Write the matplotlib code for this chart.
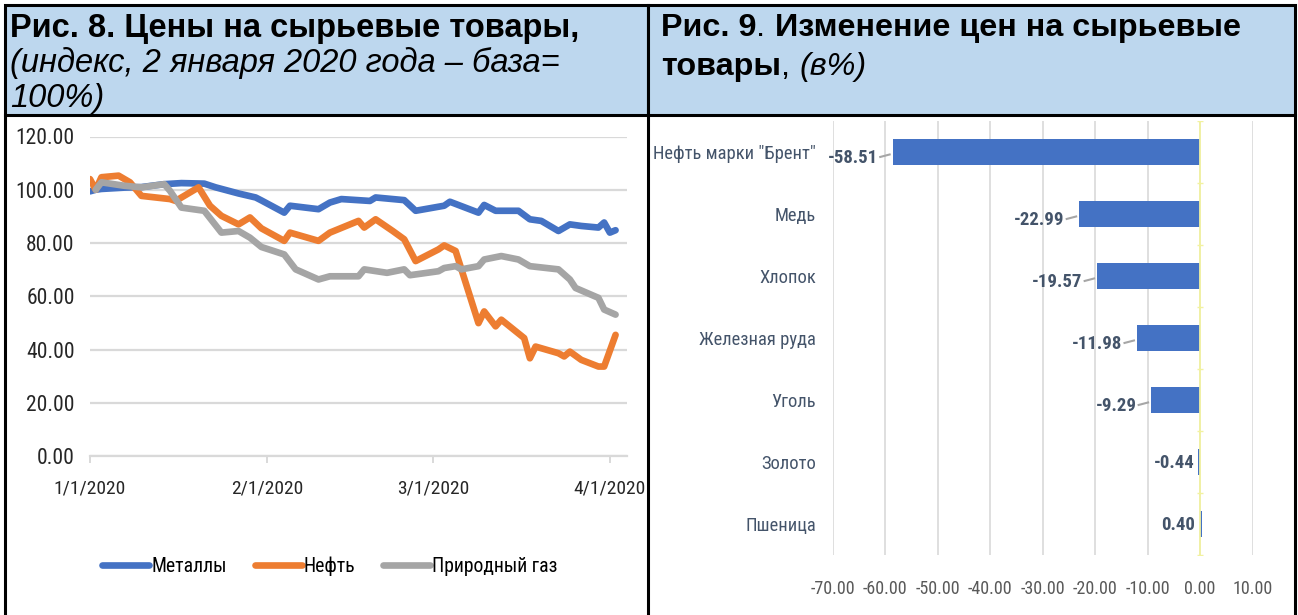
import numpy as np
import pandas as pd
import matplotlib
matplotlib.use("Agg")
from matplotlib import pyplot as plt
from matplotlib import font_manager as fm
from matplotlib.patches import Rectangle
from matplotlib.ticker import FuncFormatter
import matplotlib.dates as mdates

# ---- data: left chart (index, 2 Jan 2020 = 100) ----
metals_dates = ["2020-01-01", "2020-01-02", "2020-01-03", "2020-01-07", "2020-01-10", "2020-01-14",
                "2020-01-17", "2020-01-21", "2020-01-23", "2020-01-27", "2020-01-30", "2020-01-31",
                "2020-02-04", "2020-02-05", "2020-02-10", "2020-02-12", "2020-02-14", "2020-02-19",
                "2020-02-20", "2020-02-25", "2020-02-27", "2020-03-03", "2020-03-04", "2020-03-09",
                "2020-03-10", "2020-03-12", "2020-03-16", "2020-03-18", "2020-03-20", "2020-03-23",
                "2020-03-25", "2020-03-27", "2020-03-30", "2020-03-31", "2020-04-01", "2020-04-02"]
metals = [99.4, 100.0, 100.3, 100.8, 101.0, 102.1,
          102.5, 102.3, 100.9, 98.6, 97.1, 96.0,
          91.4, 94.0, 92.7, 95.2, 96.5, 95.8,
          97.1, 96.1, 92.1, 94.0, 95.5, 91.4,
          94.3, 92.1, 92.1, 88.9, 88.3, 84.5,
          87.0, 86.4, 85.8, 87.7, 83.9, 84.8]

oil_dates = ["2020-01-01", "2020-01-02", "2020-01-03", "2020-01-06", "2020-01-08", "2020-01-10",
             "2020-01-15", "2020-01-16", "2020-01-20", "2020-01-22", "2020-01-24", "2020-01-27",
             "2020-01-29", "2020-01-31", "2020-02-04", "2020-02-05", "2020-02-10", "2020-02-12",
             "2020-02-17", "2020-02-18", "2020-02-20", "2020-02-23", "2020-02-25", "2020-02-27",
             "2020-03-02", "2020-03-03", "2020-03-05", "2020-03-09", "2020-03-10", "2020-03-12",
             "2020-03-13", "2020-03-17", "2020-03-18", "2020-03-19", "2020-03-23", "2020-03-24",
             "2020-03-25", "2020-03-27", "2020-03-30", "2020-03-31", "2020-04-02"]
oil = [104.0, 100.0, 104.7, 105.3, 102.8, 97.7,
       96.5, 95.8, 100.9, 94.0, 90.2, 87.0,
       89.6, 85.5, 80.8, 83.9, 80.8, 83.9,
       88.3, 85.8, 88.9, 84.5, 81.4, 73.2,
       77.6, 79.1, 77.0, 49.9, 54.3, 48.7,
       51.2, 44.3, 36.7, 41.1, 38.6, 37.4,
       39.2, 36.1, 33.6, 33.6, 45.5]

gas_dates = ["2020-01-02", "2020-01-03", "2020-01-07", "2020-01-10", "2020-01-14", "2020-01-15",
             "2020-01-17", "2020-01-21", "2020-01-24", "2020-01-27", "2020-01-29", "2020-01-31",
             "2020-02-04", "2020-02-06", "2020-02-10", "2020-02-12", "2020-02-17", "2020-02-18",
             "2020-02-22", "2020-02-25", "2020-02-26", "2020-03-02", "2020-03-03", "2020-03-05",
             "2020-03-06", "2020-03-09", "2020-03-10", "2020-03-13", "2020-03-16", "2020-03-18",
             "2020-03-23", "2020-03-25", "2020-03-26", "2020-03-30", "2020-03-31", "2020-04-02"]
gas = [100.0, 102.8, 101.5, 100.9, 102.1, 99.6,
       93.3, 92.1, 83.9, 84.5, 82.0, 78.5,
       75.7, 70.1, 66.3, 67.5, 67.5, 70.1,
       68.8, 70.1, 67.9, 69.4, 70.6, 71.3,
       70.1, 71.3, 73.8, 75.1, 73.8, 71.3,
       70.1, 66.3, 63.1, 59.4, 55.0, 53.1]

series_names = ["Металлы", "Нефть", "Природный газ"]
series_colors = ["#4472C4", "#ED7D31", "#A5A5A5"]

# ---- data: right chart (change, %) ----
commodities = ['Нефть марки "Брент"', "Медь", "Хлопок", "Железная руда", "Уголь", "Золото", "Пшеница"]
changes = [-58.51, -22.99, -19.57, -11.98, -9.29, -0.44, 0.40]

# ---- fonts: prefer a narrow face for the chart text, like Arial Narrow ----
ARIAL = "Liberation Sans"


def find_narrow(bold):
    keys = ["liberation sans narrow", "liberationsansnarrow", "roboto condensed", "robotocondensed",
            "dejavu sans condensed", "dejavusanscondensed", "opensans_condensed", "open sans condensed",
            "narrow", "condensed"]
    fonts = [f for f in fm.fontManager.ttflist if f.style == "normal"]
    for k in keys:
        for f in fonts:
            tag = (f.name + " " + f.fname).lower().replace("-", "")
            is_bold = f.weight in ("bold", 700, "heavy", 800)
            if k in tag and is_bold == bold and "italic" not in f.fname.lower():
                return fm.FontProperties(fname=f.fname)
    return None


NAR = find_narrow(False)
NARB = find_narrow(True)
HAVE_NARROW = NAR is not None
if NAR is None:
    NAR = fm.FontProperties(family=ARIAL)
if NARB is None:
    NARB = fm.FontProperties(family=ARIAL, weight="bold")
K = 1.0 if HAVE_NARROW else 0.84


def fp(base, size):
    p = base.copy()
    p.set_size(size * K)
    return p


W, H = 1298, 615
fig = plt.figure(figsize=(W / 100, H / 100), dpi=100)
fig.patch.set_facecolor("white")


def fx(px):
    return px / W


def fy(py):
    return 1 - py / H


# ---- header boxes and frame ----
HEAD = "#BDD7EE"
fig.patches.append(Rectangle((fx(5), fy(115)), fx(643), 110 / H, transform=fig.transFigure,
                             facecolor=HEAD, edgecolor="black", linewidth=2.2, zorder=0))
fig.patches.append(Rectangle((fx(648), fy(115)), fx(647), 110 / H, transform=fig.transFigure,
                             facecolor=HEAD, edgecolor="black", linewidth=2.2, zorder=0))
for xp in (5, 648, 1295):
    fig.add_artist(plt.Line2D([fx(xp), fx(xp)], [fy(115), 0], transform=fig.transFigure,
                              color="black", linewidth=2.2))

renderer = fig.canvas.get_renderer()


def runs(x_px, y_px, parts, size=23.5):
    x = fx(x_px)
    for text, weight, style in parts:
        t = fig.text(x, fy(y_px), text, fontsize=size, fontweight=weight, fontstyle=style,
                     family=[ARIAL, "DejaVu Sans"], va="center", ha="left", color="black")
        bb = t.get_window_extent(renderer)
        x += bb.width / W


runs(10, 28, [("Рис. 8. Цены на сырьевые товары,", "bold", "normal")])
runs(10, 63, [("(индекс, 2 января 2020 года – база=", "normal", "italic")])
runs(10, 98, [("100%)", "normal", "italic")])
runs(661, 28, [("Рис. 9", "bold", "normal"), (". ", "normal", "normal"),
               ("Изменение цен на сырьевые", "bold", "normal")], size=23.3)
runs(661, 67, [("товары", "bold", "normal"), (", ", "normal", "normal"),
               ("(в%)", "normal", "italic")], size=23.3)

# ---- left chart: lines ----
ax1 = fig.add_axes([fx(90), fy(456), fx(537), (456 - 136.5) / H])
line_data = [(metals_dates, metals), (oil_dates, oil), (gas_dates, gas)]
handles = []
for (dts, vals), name, col in zip(line_data, series_names, series_colors):
    h, = ax1.plot(pd.to_datetime(dts), vals, color=col, linewidth=4.8, label=name,
                  solid_joinstyle="round", solid_capstyle="round")
    handles.append(h)

ax1.set_ylim(0, 120)
ax1.set_yticks(np.arange(0, 121, 20))
ax1.yaxis.set_major_formatter(FuncFormatter(lambda v, p: f"{v:.2f}"))
ax1.set_xlim(pd.Timestamp("2020-01-01"), pd.Timestamp("2020-04-04"))
ax1.set_xticks(pd.to_datetime(["2020-01-01", "2020-02-01", "2020-03-01", "2020-04-01"]))
ax1.xaxis.set_major_formatter(FuncFormatter(
    lambda v, p: f"{mdates.num2date(v).month}/{mdates.num2date(v).day}/{mdates.num2date(v).year}"))
ax1.grid(axis="y", color="#D9D9D9", linewidth=1.6)
ax1.set_axisbelow(True)
for s in ("top", "right", "left"):
    ax1.spines[s].set_visible(False)
ax1.spines["bottom"].set_color("#D9D9D9")
ax1.spines["bottom"].set_linewidth(1.6)
ax1.tick_params(axis="y", length=0, pad=11, labelcolor="#262626")
ax1.tick_params(axis="x", length=5, width=1.4, color="#D9D9D9", pad=12, labelcolor="#262626")
for lab in ax1.get_yticklabels():
    lab.set_fontproperties(fp(NAR, 15.5))
for lab in ax1.get_xticklabels():
    lab.set_fontproperties(fp(NAR, 14))

fig.legend(handles=handles, loc="center", bbox_to_anchor=(fx(330), fy(566)), ncol=3,
           frameon=False, prop=fp(NAR, 14.2), handlelength=2.4, handletextpad=0.1,
           columnspacing=1.4)

# ---- right chart: bars ----
ax2 = fig.add_axes([fx(832.5), fy(555), fx(420), (555 - 121) / H])
ypos = np.arange(len(commodities))
ax2.barh(ypos, changes, height=0.42, color="#4472C4", zorder=2)
ax2.set_xlim(-70, 10)
ax2.set_ylim(len(commodities) - 0.5, -0.5)
ax2.set_xticks(np.arange(-70, 11, 10))
ax2.xaxis.set_major_formatter(FuncFormatter(lambda v, p: f"{v:.2f}"))
ax2.set_yticks(ypos)
ax2.set_yticklabels(commodities)
ax2.grid(axis="x", color="#D9D9D9", linewidth=1.2, zorder=0)
ax2.set_axisbelow(True)
for s in ax2.spines.values():
    s.set_visible(False)
ax2.axvline(0, color="#F2F2A0", linewidth=1.3, zorder=3)
ax2.plot(np.zeros(len(commodities) + 1), np.arange(-0.5, len(commodities), 1.0), linestyle="none",
         marker="_", markersize=5, color="#F2F2A0", zorder=3)
ax2.tick_params(axis="y", length=0, pad=12, labelcolor="#44546A")
ax2.tick_params(axis="x", length=0, pad=18, labelcolor="#595959")
for lab in ax2.get_yticklabels():
    lab.set_fontproperties(fp(NAR, 13.3 if HAVE_NARROW else 13.4))
for lab in ax2.get_xticklabels():
    lab.set_fontproperties(fp(NAR, 13 if HAVE_NARROW else 12.2))

for yv, v in zip(ypos, changes):
    if abs(v) > 5:
        ax2.plot([v - 2.4, v - 0.6], [yv + 0.08, yv + 0.04], color="#A6A6A6", linewidth=1.5, zorder=3)
        ax2.text(v - 2.8, yv + 0.1, f"{v:.2f}", ha="right", va="center",
                 fontproperties=fp(NARB, 13.5), color="#44546A")
    else:
        ax2.text(-1.0, yv + 0.02, f"{v:.2f}", ha="right", va="center",
                 fontproperties=fp(NARB, 13.5), color="#44546A")

fig.savefig("out.png", dpi=100)
